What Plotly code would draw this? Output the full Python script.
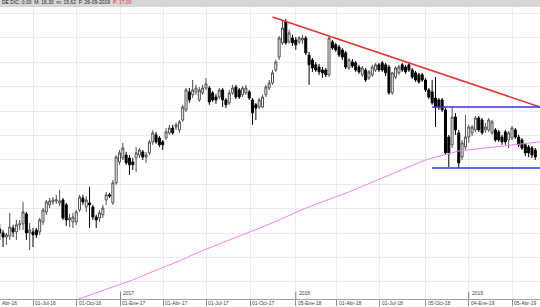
import pandas as pd
import plotly.graph_objects as go

# Weekly candles (Fridays)
dates = pd.date_range("2016-04-22", periods=162, freq="7D")

opens = [14.17,14.01,13.84,13.88,14.21,14.05,14.34,14.38,14.79,14.01,
         14.05,14.13,14.05,14.46,14.87,15.16,15.28,15.32,15.24,15.36,
         15.16,14.54,14.46,14.46,14.95,15.44,15.07,15.24,15.07,14.66,
         14.62,14.75,15.36,15.57,15.24,16.06,16.92,17.08,17.20,17.08,
         16.92,17.08,17.20,17.33,17.12,17.29,17.74,18.03,17.90,17.74,
         17.90,18.11,18.31,18.35,18.23,18.64,19.05,19.79,19.67,19.79,
         19.46,19.75,19.95,19.95,19.75,19.58,19.58,19.87,19.46,19.34,
         19.75,19.99,19.87,19.67,19.75,19.79,19.46,19.26,19.17,19.17,
         19.67,19.95,20.16,20.69,21.22,21.80,22.66,21.84,22.00,21.92,
         21.84,21.92,22.00,21.30,21.10,20.90,20.81,20.69,20.69,20.49,
         21.84,21.72,21.63,21.51,21.39,20.77,21.02,20.98,20.81,20.49,
         20.69,20.36,20.49,20.69,20.90,20.98,20.90,20.81,19.75,20.40,
         20.57,20.90,20.81,20.90,20.69,20.57,20.49,20.49,20.28,19.87,
         19.79,19.54,19.46,19.46,19.05,17.94,17.62,18.76,18.11,17.12,
         17.53,17.94,18.11,18.23,18.72,18.64,18.23,18.23,18.11,18.23,
         18.15,17.94,18.15,17.82,17.90,18.23,17.94,17.82,17.62,17.53,
         17.49,17.41]
highs = [14.38,14.13,14.01,14.83,14.34,14.54,14.54,15.28,14.87,14.42,
         14.21,14.21,14.62,15.03,15.36,15.44,15.48,15.57,15.77,15.44,
         15.24,14.79,14.83,14.95,15.57,15.57,15.52,15.89,15.16,14.75,
         14.95,15.16,15.69,15.65,16.18,17.20,17.41,17.70,17.33,17.20,
         17.08,17.53,17.49,17.41,17.33,17.82,18.23,18.15,17.98,17.82,
         18.31,18.44,18.44,18.52,18.64,19.26,19.95,19.95,20.28,20.08,
         19.99,20.08,20.36,20.03,19.83,19.71,19.95,19.95,19.54,19.87,
         20.08,20.08,19.95,20.03,20.08,19.87,19.54,19.34,19.54,19.67,
         20.08,20.28,20.69,21.10,22.08,22.74,22.78,22.33,22.13,22.04,
         22.08,22.13,22.08,21.43,21.18,21.02,20.94,20.81,20.77,22.04,
         21.92,21.80,21.72,21.59,21.47,21.18,21.14,21.06,20.90,20.85,
         20.77,20.69,20.90,20.98,20.98,21.06,20.98,20.90,20.61,20.85,
         20.90,20.98,20.90,20.98,20.77,20.65,20.57,20.57,20.36,19.95,
         20.28,20.40,19.54,19.54,19.13,18.03,19.17,18.93,18.23,17.82,
         18.85,18.44,18.44,18.80,18.80,18.72,18.52,18.72,18.64,18.31,
         18.23,18.03,18.23,18.19,18.39,18.31,18.03,17.90,17.70,17.62,
         17.57,17.49]
lows = [13.72,13.43,13.52,13.72,13.84,13.72,14.13,14.13,13.72,13.31,
        13.43,13.80,13.93,14.34,14.75,15.03,15.16,15.20,15.11,14.54,
        14.29,14.25,14.21,14.34,14.87,15.16,14.87,14.21,14.54,14.21,
        14.46,14.62,15.16,15.44,15.16,15.98,16.80,17.00,16.80,16.39,
        16.59,16.51,17.08,17.00,16.88,17.20,17.62,17.66,17.53,17.41,
        17.82,18.03,18.03,18.23,18.11,18.56,18.97,19.34,19.54,19.67,
        19.38,19.67,19.87,19.26,19.38,19.30,19.50,19.17,19.13,19.26,
        19.67,19.50,19.50,19.58,19.67,19.46,18.44,18.64,19.09,19.13,
        19.58,19.87,20.08,20.61,21.10,21.72,21.72,21.76,21.67,21.51,
        21.76,21.76,21.30,20.08,20.61,20.61,20.49,20.36,20.40,20.40,
        21.51,21.43,21.22,21.10,20.73,20.69,20.77,20.61,20.53,20.40,
        20.20,20.28,20.40,20.61,20.61,20.61,20.44,19.67,19.67,20.32,
        20.49,20.61,20.53,20.61,20.32,20.20,20.12,20.20,19.79,19.50,
        19.26,18.35,19.05,18.97,17.20,16.71,17.49,18.03,16.67,17.00,
        17.41,17.70,17.98,18.15,18.15,18.03,18.11,18.15,18.03,17.74,
        17.74,17.62,17.62,17.49,17.82,17.86,17.53,17.41,17.16,17.12,
        17.08,17.00]
closes = [14.01,13.84,13.93,14.25,14.05,14.34,14.38,14.87,14.01,14.13,
          13.93,13.93,14.54,14.95,15.28,15.32,15.36,15.36,15.32,14.62,
          14.54,14.62,14.66,14.87,15.48,15.28,15.36,15.16,14.66,14.54,
          14.83,15.03,15.57,15.52,16.06,17.12,17.29,17.49,16.88,16.80,
          16.80,17.29,17.41,17.12,17.20,17.74,18.11,17.74,17.62,17.62,
          18.15,18.31,18.11,18.44,18.56,19.17,19.87,19.46,19.87,19.95,
          19.87,19.95,20.12,19.38,19.46,19.46,19.87,19.46,19.26,19.75,
          19.95,19.58,19.58,19.95,19.95,19.54,18.93,19.13,19.46,19.58,
          19.99,20.16,20.57,21.02,22.00,22.41,21.80,22.21,21.80,21.72,
          22.00,22.00,21.39,20.90,20.77,20.69,20.61,20.57,20.49,22.00,
          21.59,21.51,21.30,21.22,20.81,21.10,20.85,20.69,20.61,20.77,
          20.28,20.61,20.81,20.90,20.69,20.69,20.57,19.75,20.57,20.77,
          20.81,20.69,20.61,20.69,20.40,20.28,20.20,20.28,19.87,19.58,
          19.34,19.17,19.17,19.05,17.29,17.29,18.76,18.23,16.88,17.70,
          17.94,18.35,18.35,18.72,18.23,18.11,18.35,18.64,18.56,17.82,
          17.82,17.74,17.74,18.11,18.31,17.94,17.62,17.49,17.29,17.29,
          17.20,17.12]

# 200-session moving average (read at sample dates)
ma_dates = ["2016-09-23","2016-11-18","2017-01-27","2017-03-03","2017-05-05",
            "2017-06-16","2017-09-29","2017-11-17","2018-01-26","2018-04-27",
            "2018-07-27","2018-10-05","2018-12-14","2019-02-22","2019-04-12",
            "2019-06-03"]
ma_values = [11.22,11.59,12.08,12.37,12.86,13.23,14.05,14.42,15.03,15.69,
             16.43,17.00,17.37,17.53,17.62,17.74]

# Drawn trend lines
res_dates = ["2017-11-17", "2019-06-03"]
res_values = [22.86, 19.17]
box_dates = ["2018-10-19", "2019-06-03"]
box_top = [19.17, 19.17]
box_bottom = [16.67, 16.67]

# Axis labels (the first one is only partly visible in the reference: "Abr-16")
tick_dates = ["2016-04-01","2016-07-01","2016-10-01","2017-01-01","2017-04-01",
              "2017-07-01","2017-10-01","2018-01-05","2018-04-01","2018-07-01",
              "2018-10-05","2019-01-04","2019-04-05"]
tick_text = ["Abr-16","01-Jul-16","01-Oct-16","01-Ene-17","01-Abr-17",
             "01-Jul-17","01-Oct-17","05-Ene-18","01-Abr-18","01-Jul-18",
             "05-Oct-18","04-Ene-19","05-Abr-19"]
year_dates = ["2017-01-01","2018-01-05","2019-01-04"]
year_text = ["2017","2018","2019"]

header_text = "DE DIC: 0,00  M: 16,30  m: 15,62  F: 26-09-2019  "
header_red = "P: 17,00"

x_start = pd.Timestamp("2016-04-22 13:00")
x_end = pd.Timestamp("2019-06-02 22:00")

fig = go.Figure()
fig.add_trace(go.Candlestick(
    x=dates, open=opens, high=highs, low=lows, close=closes,
    increasing=dict(line=dict(color="#505050", width=1), fillcolor="#ffffff"),
    decreasing=dict(line=dict(color="#000000", width=1), fillcolor="#000000"),
    whiskerwidth=0, showlegend=False, hoverinfo="skip"))
fig.add_trace(go.Scatter(x=ma_dates, y=ma_values, mode="lines",
                         line=dict(color="#ee82ee", width=1), showlegend=False))
fig.add_trace(go.Scatter(x=res_dates, y=res_values, mode="lines",
                         line=dict(color="#e8322a", width=1.5), showlegend=False))
fig.add_trace(go.Scatter(x=box_dates, y=box_top, mode="lines",
                         line=dict(color="#3434d8", width=1.3), showlegend=False))
fig.add_trace(go.Scatter(x=box_dates, y=box_bottom, mode="lines",
                         line=dict(color="#3434d8", width=1.3), showlegend=False))

lab_font = dict(size=5, color="#404040", family="Liberation Sans")
annotations = []
for d, t in zip(tick_dates, tick_text):
    ts = pd.Timestamp(d)
    if ts < x_start:
        # tick lies left of the visible range: label pinned to the left edge
        annotations.append(dict(x=0, y=0, xref="paper", yref="paper", text=t,
                                showarrow=False, xanchor="left", yanchor="top",
                                xshift=0, yshift=1, font=lab_font))
    else:
        annotations.append(dict(x=d, y=0, xref="x", yref="paper", text=t,
                                showarrow=False, xanchor="left", yanchor="top",
                                xshift=0, yshift=1, font=lab_font))
for d, t in zip(year_dates, year_text):
    annotations.append(dict(x=d, y=0, xref="x", yref="paper", text=t,
                            showarrow=False, xanchor="left", yanchor="bottom",
                            xshift=1, yshift=1, font=lab_font))
annotations.append(dict(x=0, y=1, xref="paper", yref="paper",
                        text=header_text + "<span style='color:#e03030'>" + header_red + "</span>",
                        showarrow=False, xanchor="left", yanchor="bottom", yshift=0,
                        font=dict(size=5, color="#202020", family="Liberation Sans")))

shapes = [dict(type="rect", xref="paper", yref="paper", x0=0, x1=1, y0=1, y1=1.03,
               fillcolor="#d6d6d6", line=dict(width=0), layer="below")]
for d in year_dates:
    shapes.append(dict(type="line", xref="x", yref="paper", x0=d, x1=d,
                       y0=0, y1=0.025, line=dict(color="#808080", width=1)))

fig.update_layout(
    width=540, height=307,
    margin=dict(l=0, r=0, t=7, b=8),
    paper_bgcolor="white", plot_bgcolor="white",
    boxgap=0.15,
    annotations=annotations, shapes=shapes,
    xaxis=dict(type="date", range=[x_start, x_end],
               tickvals=tick_dates, showticklabels=False,
               ticks="outside", ticklen=6, tickcolor="#909090", tickwidth=1,
               showgrid=True, gridcolor="#ececec", gridwidth=1,
               showline=True, linecolor="#a0a0a0", linewidth=1,
               rangeslider=dict(visible=False), zeroline=False),
    yaxis=dict(range=[11.30, 23.27], dtick=1, tick0=0, showticklabels=False,
               showgrid=True, gridcolor="#ececec", gridwidth=1, zeroline=False,
               ticks=""),
)
fig.write_html("out.html")
